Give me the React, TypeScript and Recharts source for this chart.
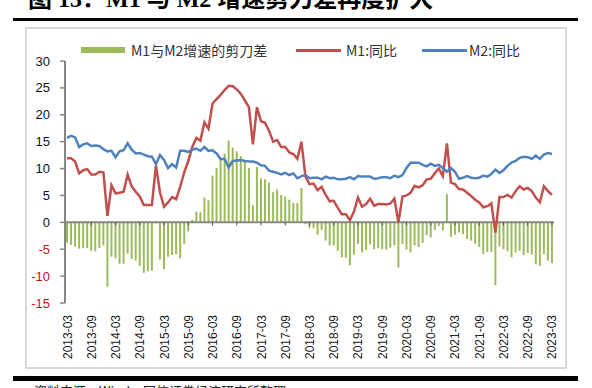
import React from 'react';
import {
  ComposedChart,
  Bar,
  Line,
  XAxis,
  YAxis,
  ReferenceLine,
} from 'recharts';

// monthly categories 2013-03 .. 2023-03
const months: string[] = [];
for (let y = 2013; y <= 2023; y++) {
  for (let m = 1; m <= 12; m++) {
    if ((y === 2013 && m < 3) || (y === 2023 && m > 3)) continue;
    months.push(`${y}-${String(m).padStart(2, '0')}`);
  }
}

// M1 同比 (%)
const m1 = [
  11.9, 11.9, 11.3, 9.1, 9.7, 9.9, 8.9, 8.9, 9.4, 9.3, // 2013-03..12
  1.2, 6.9, 5.4, 5.5, 5.7, 8.9, 6.7, 5.7, 4.8, 3.2, 3.2, 3.2,
  10.6, 5.6, 2.9, 3.7, 4.7, 4.3, 6.6, 9.3, 11.4, 14.0, 15.7, 15.2,
  18.6, 17.4, 22.1, 22.9, 23.7, 24.6, 25.4, 25.3, 24.7, 23.9, 22.7, 21.4,
  14.5, 21.4, 18.8, 18.5, 17.0, 15.0, 15.3, 14.0, 14.0, 13.0, 12.7, 11.8,
  15.0, 8.5, 7.1, 7.2, 6.0, 6.6, 5.1, 3.9, 4.0, 2.7, 1.5, 1.5,
  0.4, 2.0, 4.6, 2.9, 3.4, 4.4, 3.1, 3.4, 3.4, 3.3, 3.5, 4.4,
  0.0, 4.8, 5.0, 5.5, 6.8, 6.5, 6.9, 8.0, 8.1, 9.1, 10.0, 8.6,
  14.7, 7.4, 7.1, 6.2, 6.1, 5.5, 4.9, 4.2, 3.7, 2.8, 3.0, 3.5,
  -1.9, 4.7, 4.7, 5.1, 4.6, 5.8, 6.7, 6.1, 6.4, 5.8, 4.6, 3.7,
  6.7, 5.8, 5.1,
];

// M2 同比 (%)
const m2 = [
  15.7, 16.1, 15.8, 14.0, 14.5, 14.7, 14.2, 14.3, 14.2, 13.6,
  13.2, 13.3, 12.1, 13.2, 13.4, 14.7, 13.5, 12.8, 12.9, 12.6, 12.3, 12.2,
  10.8, 12.5, 11.6, 10.1, 10.8, 10.2, 13.3, 13.3, 13.1, 13.5, 13.7, 13.3,
  14.0, 13.3, 13.4, 12.8, 11.8, 11.8, 10.2, 11.4, 11.5, 11.6, 11.4, 11.3,
  11.3, 11.1, 10.6, 10.5, 9.6, 9.4, 9.2, 8.9, 9.2, 8.8, 9.1, 8.2,
  8.6, 8.8, 8.2, 8.3, 8.3, 8.0, 8.5, 8.2, 8.3, 8.0, 8.0, 8.1,
  8.4, 8.0, 8.6, 8.5, 8.5, 8.5, 8.1, 8.2, 8.4, 8.4, 8.2, 8.7,
  8.4, 8.8, 10.1, 11.1, 11.1, 11.1, 10.7, 10.4, 10.9, 10.5, 10.7, 10.1,
  9.4, 10.1, 9.4, 8.1, 8.3, 8.6, 8.3, 8.2, 8.3, 8.7, 8.5, 9.0,
  9.8, 9.2, 9.7, 10.5, 11.1, 11.4, 12.0, 12.2, 12.1, 11.8, 12.4, 11.8,
  12.6, 12.9, 12.7,
];

// M1与M2增速的剪刀差
const gap = [
  -3.8, -4.2, -4.5, -4.9, -4.8, -4.8, -5.3, -5.4, -4.8, -4.3,
  -12.0, -6.4, -6.7, -7.7, -7.7, -5.8, -6.8, -7.1, -8.1, -9.4, -9.1, -9.0,
  -0.2, -6.9, -8.7, -6.4, -6.1, -5.9, -6.7, -4.0, -1.7, 0.5, 2.0, 1.9,
  4.6, 4.1, 8.7, 10.1, 11.9, 12.8, 15.2, 13.9, 13.2, 12.3, 11.3, 10.1,
  3.2, 10.3, 8.2, 8.0, 7.4, 5.6, 6.1, 5.1, 4.8, 4.2, 3.6, 3.6,
  6.4, -0.3, -1.1, -1.1, -2.3, -1.4, -3.4, -4.3, -4.3, -5.3, -6.5, -6.6,
  -8.0, -6.0, -4.0, -5.6, -5.1, -4.1, -5.0, -4.8, -5.0, -5.1, -4.7, -4.3,
  -8.4, -4.0, -5.1, -5.6, -4.3, -4.6, -3.8, -2.4, -2.8, -1.4, -0.7, -1.5,
  5.3, -2.7, -2.3, -1.9, -2.2, -3.1, -3.4, -4.0, -4.6, -5.9, -5.5, -5.5,
  -11.7, -4.5, -5.0, -5.4, -6.5, -5.6, -5.3, -6.1, -5.7, -6.0, -7.8, -8.1,
  -5.9, -7.1, -7.6,
];

const yTicks = [-15, -10, -5, 0, 5, 10, 15, 20, 25, 30];

const data = months.map((month, i) => ({ month, gap: gap[i], m1: m1[i], m2: m2[i] }));
const labelMonths = months.filter((_, i) => i % 6 === 0);

const GREEN = '#9BBB59';
const RED = '#C0504D';
const BLUE = '#4F81BD';
const AXIS = '#868686';
const SANS = '"Liberation Sans", Arial, "Noto Sans CJK SC", sans-serif';

const XTick = (props: any) => {
  const { x, y, payload } = props;
  return (
    <text
      transform={`translate(${x + 4.5},${y + 12}) rotate(-90)`}
      textAnchor="end"
      fontSize={12}
      fontFamily={SANS}
      fill="#222"
    >
      {payload.value}
    </text>
  );
};

const YTick = (props: any) => {
  const { x, y, payload } = props;
  return (
    <text x={x} y={y} dy={4.5} textAnchor="end" fontSize={13} fontFamily={SANS} fill={payload.value < 0 ? '#D01010' : '#111'}>
      {payload.value}
    </text>
  );
};

const legendItems = [
  { label: 'M1与M2增速的剪刀差', color: GREEN, kind: 'bar', left: 81, textLeft: 131 },
  { label: 'M1:同比', color: RED, kind: 'line', left: 296, textLeft: 346 },
  { label: 'M2:同比', color: BLUE, kind: 'line', left: 422, textLeft: 469 },
];

const ChartLegend = () => (
  <div style={{ position: 'absolute', left: 0, top: 40, width: 592, height: 20 }}>
    {legendItems.map((it) => (
      <React.Fragment key={it.label}>
        <div
          style={{
            position: 'absolute',
            left: it.left,
            top: it.kind === 'bar' ? 7 : 8.5,
            width: it.kind === 'bar' ? 44 : 45,
            height: it.kind === 'bar' ? 6 : 3,
            background: it.color,
          }}
        />
        <div
          style={{
            position: 'absolute',
            left: it.textLeft,
            top: 0,
            fontSize: 14,
            lineHeight: '20px',
            color: '#333',
            fontFamily: '"Noto Sans CJK SC", sans-serif',
            whiteSpace: 'nowrap',
          }}
        >
          {it.label}
        </div>
      </React.Fragment>
    ))}
  </div>
);

export default function App() {
  return (
    <div style={{ position: 'absolute', left: 0, top: 0, width: 592, height: 388, overflow: 'hidden', background: '#fff' }}>
      <div
        style={{
          position: 'absolute',
          left: 28,
          top: -14,
          fontSize: 24,
          lineHeight: '26px',
          fontWeight: 700,
          fontFamily: '"Liberation Serif", "Noto Sans CJK SC", serif',
          color: '#000',
          whiteSpace: 'nowrap',
        }}
      >
        图 13：M1 与 M2 增速剪刀差再度扩大
      </div>
      <div style={{ position: 'absolute', left: 13, top: 18, width: 565, height: 3, background: '#000' }} />
      <div style={{ position: 'absolute', left: 25, top: 27, width: 538, height: 338, border: '2px solid #D9D9D9' }} />
      <ChartLegend />
      <div style={{ position: 'absolute', left: 0, top: 0 }}>
        <ComposedChart
          width={592}
          height={388}
          data={data}
          margin={{ top: 61, right: 38, left: 25, bottom: 25 }}
        >
          <XAxis
            dataKey="month"
            interval={5}
            axisLine={false}
            tickLine={false}
            tickSize={0}
            tickMargin={0}
            height={60}
            tick={<XTick />}
          />
          <YAxis
            domain={[-15, 30]}
            ticks={yTicks}
            width={40}
            stroke={AXIS}
            axisLine={{ stroke: AXIS, strokeWidth: 2 }}
            tickLine={{ stroke: AXIS, strokeWidth: 1.5 }}
            tickSize={5}
            tickMargin={10}
            tick={<YTick />}
            allowDataOverflow
          />
          <Bar dataKey="gap" fill={GREEN} barSize={2} isAnimationActive={false} />
          <ReferenceLine y={0} stroke={AXIS} strokeWidth={2} />
          {labelMonths.slice(1).map((m) => (
            <ReferenceLine
              key={m}
              segment={[{ x: m, y: 0 }, { x: m, y: -0.6 }]}
              stroke="#555"
              strokeWidth={1}
            />
          ))}
          <Line type="linear" dataKey="m1" stroke={RED} strokeWidth={2.5} dot={false} isAnimationActive={false} />
          <Line type="linear" dataKey="m2" stroke={BLUE} strokeWidth={2.5} dot={false} isAnimationActive={false} />
        </ComposedChart>
      </div>
      <div style={{ position: 'absolute', left: 13, top: 376, width: 565, height: 5, background: '#000' }} />
      <div
        style={{
          position: 'absolute',
          left: 34,
          top: 383,
          fontSize: 13,
          lineHeight: '16px',
          color: '#222',
          fontFamily: '"Noto Sans CJK SC", sans-serif',
          whiteSpace: 'nowrap',
        }}
      >
        资料来源：Wind，国信证券经济研究所整理
      </div>
    </div>
  );
}
